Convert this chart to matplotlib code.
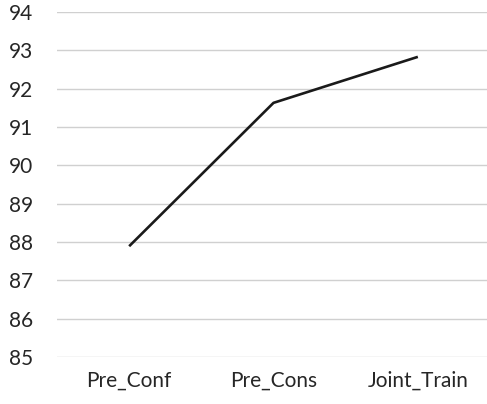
import matplotlib
matplotlib.use("Agg")
import matplotlib.pyplot as plt

# data
categories = ["Pre_Conf", "Pre_Cons", "Joint_Train"]
scores = [87.89, 91.63, 92.83]
yticks = [85, 86, 87, 88, 89, 90, 91, 92, 93, 94]

plt.rcParams['font.family'] = ['Lato', 'DejaVu Sans']

fig = plt.figure(figsize=(4.87, 4.04), dpi=100)
ax = fig.add_axes([57 / 487, 47 / 404, 433 / 487, 345 / 404])

ax.plot(range(len(categories)), scores, color='#1a1a1a', linewidth=1.9,
        solid_capstyle='butt')

ax.set_xlim(-0.5, len(categories) - 0.5)
ax.set_ylim(yticks[0], yticks[-1])
ax.set_yticks(yticks)
ax.set_xticks(range(len(categories)))
ax.set_xticklabels(categories)
ax.grid(axis='y', color='#d0d0d0', linewidth=1.0)
ax.set_axisbelow(True)
for s in ax.spines.values():
    s.set_visible(False)
ax.tick_params(length=0, labelsize=15, colors='#262626')
ax.tick_params(axis='y', pad=17)
ax.tick_params(axis='x', pad=10)

fig.savefig('out.png', dpi=100)
